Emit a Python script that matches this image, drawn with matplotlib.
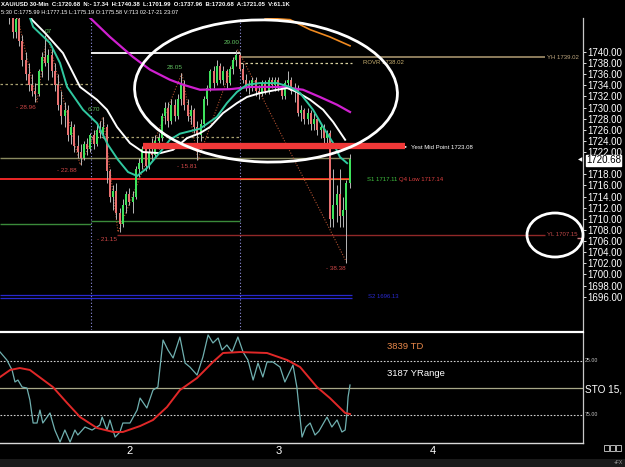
import matplotlib
matplotlib.use("Agg")
import matplotlib.pyplot as plt
from matplotlib.patches import Ellipse, Rectangle
import numpy as np

# ---------------- data ----------------
opens = [1758, 1753, 1749, 1746.5, 1743.5, 1746, 1742, 1738.5, 1736, 1734,
         1733, 1732.5, 1736.5, 1739, 1738, 1739.5, 1736.5, 1734, 1730.5, 1728.5,
         1729.5, 1725, 1726.5, 1723, 1722, 1721, 1723.5, 1722.5, 1725, 1723.5,
         1726, 1725.5, 1726.5, 1718.5, 1714, 1715, 1711, 1709, 1712.5, 1714.5,
         1713, 1714, 1719, 1720, 1722.5, 1719.5, 1722, 1721.5, 1724, 1724.5,
         1728.5, 1730, 1727.5, 1730.5, 1728.5, 1731.5, 1734, 1730.5, 1728.5, 1729.5,
         1726.5, 1725, 1727, 1731.5, 1733.5, 1736.5, 1734.5, 1737.5, 1735, 1736.5,
         1734.5, 1737, 1738.5, 1739.5, 1737, 1735, 1734, 1733.5, 1735, 1733,
         1732.5, 1734.5, 1733, 1735, 1734, 1735, 1733.5, 1732, 1734.5, 1735,
         1733, 1733.5, 1729, 1729.5, 1728, 1729, 1727, 1728, 1726, 1726.5,
         1724.5, 1725.5, 1710, 1712.5, 1714.5, 1710.5, 1711.5, 1716.5]
highs = [1760, 1755, 1751, 1748, 1747, 1747, 1743, 1740, 1738, 1736,
         1734.5, 1737, 1740, 1743, 1740.5, 1741, 1738, 1736, 1733, 1731,
         1730.5, 1727.5, 1727, 1725, 1723.5, 1724, 1724.5, 1725.5, 1726, 1727,
         1727.5, 1728.3, 1727, 1719, 1716, 1716.5, 1712, 1713.5, 1715, 1715.5,
         1715, 1719.5, 1721, 1723, 1723.5, 1723, 1724.5, 1725, 1725.5, 1729,
         1731, 1731, 1731.5, 1731.5, 1732.5, 1736.2, 1735, 1731.5, 1730.5, 1730,
         1727.5, 1728, 1732, 1734, 1737, 1737.5, 1738.5, 1738, 1737.5, 1737,
         1737.5, 1739, 1740.4, 1740, 1738, 1736, 1735, 1735.5, 1735.5, 1734,
         1735, 1735, 1735.5, 1735.5, 1735.5, 1735.5, 1734, 1735, 1736.5, 1735.5,
         1734.5, 1734, 1730.5, 1730, 1730, 1729.5, 1729, 1728.5, 1727, 1727,
         1726, 1726, 1719, 1716, 1719, 1714, 1717, 1721.6]
lows = [1752, 1748, 1745, 1742.5, 1742.5, 1741, 1737.5, 1735, 1733, 1732,
        1731, 1732, 1735.5, 1737.5, 1735, 1735.5, 1733, 1729.5, 1727, 1726.5,
        1724, 1723.5, 1722, 1721, 1719.7, 1720.5, 1721.5, 1722, 1722.5, 1723,
        1724.5, 1724.5, 1716.5, 1713, 1711.5, 1710, 1707.6, 1708.5, 1711, 1712.5,
        1711, 1713.5, 1717.5, 1719, 1718.5, 1719, 1720.5, 1721, 1722.5, 1724,
        1727, 1726.5, 1727, 1727.5, 1728, 1730.5, 1729.5, 1727.5, 1727, 1725.5,
        1720.6, 1724, 1726.5, 1730.5, 1733, 1733.5, 1734, 1734.5, 1734, 1733.5,
        1734, 1736, 1737.5, 1736.5, 1734.5, 1733, 1732.5, 1733, 1732, 1731.5,
        1732, 1732.5, 1732.5, 1733.5, 1733, 1733, 1731.5, 1731.5, 1733.5, 1732.5,
        1731, 1728.5, 1727.5, 1727, 1727, 1726, 1726, 1725, 1724.5, 1723.5,
        1723.5, 1708.5, 1708.5, 1709.5, 1708.5, 1708.5, 1702, 1715.5]
closes = [1753, 1749, 1746.5, 1743.5, 1746, 1742, 1738.5, 1736, 1734, 1733,
          1732.5, 1736.5, 1739, 1738, 1739.5, 1736.5, 1734, 1730.5, 1728.5, 1729.5,
          1725, 1726.5, 1723, 1722, 1721, 1723.5, 1722.5, 1725, 1723.5, 1726,
          1725.5, 1726.5, 1718.5, 1714, 1715, 1711, 1709, 1712.5, 1714.5, 1713,
          1714, 1719, 1720, 1722.5, 1719.5, 1722, 1721.5, 1724, 1724.5, 1728.5,
          1730, 1727.5, 1730.5, 1728.5, 1731.5, 1734, 1730.5, 1728.5, 1729.5, 1726.5,
          1725, 1727, 1731.5, 1733.5, 1736.5, 1734.5, 1737.5, 1735, 1736.5, 1734.5,
          1737, 1738.5, 1739.5, 1737, 1735, 1734, 1733.5, 1735, 1733, 1732.5,
          1734.5, 1733, 1735, 1734, 1735, 1733.5, 1732, 1734.5, 1735, 1733,
          1733.5, 1729, 1729.5, 1728, 1729, 1727, 1728, 1726, 1726.5, 1724.5,
          1725.5, 1710, 1712.5, 1714.5, 1710.5, 1711.5, 1716.5, 1720.68]

# moving averages (bar index, price)
white_ma_x = [7.4, 8.9, 13.0, 18.5, 23.8, 29.0, 32.1, 35.2, 39.2, 43.2, 48.5, 52.5, 56.8,
              60.8, 63.9, 67.9, 72.2, 75.3, 79.3, 84.6, 87.7, 90.7, 94.8, 98.8, 101.9, 105.6]
white_ma = [1747.5, 1745.8, 1743.4, 1739.8, 1733.7, 1731.4, 1729.6, 1726.5, 1723.6, 1722.0,
            1721.8, 1722.4, 1724.5, 1725.4, 1726.5, 1729.0, 1730.8, 1731.9, 1732.6, 1733.2,
            1733.5, 1732.8, 1731.4, 1729.6, 1727.4, 1724.2]
teal_ma_x = [7.8, 9.3, 14.5, 17.6, 19.8, 24.7, 29.0, 32.4, 35.5, 38.6, 41.4, 44.4, 48.5, 51.5,
             54.6, 60.8, 66.0, 69.1, 72.2, 75.3, 79.3, 84.6, 88.6, 91.7, 95.7, 98.8, 101.9,
             104.0, 106.2]
teal_ma = [1747.0, 1744.5, 1741.6, 1738.0, 1733.7, 1729.6, 1727.2, 1723.3, 1720.6, 1718.4,
           1717.7, 1719.1, 1722.0, 1724.2, 1725.3, 1726.2, 1728.3, 1730.8, 1732.8, 1734.1,
           1734.4, 1734.4, 1733.7, 1732.6, 1729.6, 1726.5, 1723.6, 1721.1, 1720.0]
mag_ma_x = [26.2, 33.0, 40.1, 45.4, 51.5, 55.6, 60.8, 70.1, 76.2, 86.4, 92.6, 97.8, 103.1, 107.1]
mag_ma = [1746.5, 1742.7, 1739.1, 1736.8, 1735.0, 1734.1, 1733.2, 1733.3, 1733.7, 1733.7,
          1733.2, 1731.9, 1730.5, 1729.2]
orange_ma_x = [80.9, 88.6, 94.8, 100.9, 107.1]
orange_ma = [1746.1, 1745.8, 1744.0, 1742.7, 1741.1]

# zigzag swing points
zz_x = [-0.9, 10.5, 13.6, 23.8, 30.9, 35.5, 55.2, 60.2, 72.5, 106.2]
zz_p = [1760.0, 1731.0, 1743.1, 1719.7, 1728.3, 1707.6, 1736.2, 1720.6, 1740.4, 1702.0]
zz_labels = ["- 28.96", "07", "- 22.88", "6.70", "- 21.15", "28.05", "- 15.81", "29.00", "- 38.38"]

# levels
yh_level = 1739.02
rovr_level = 1738.02
mid_level = 1723.08
s1_level = 1717.11
q4low_level = 1717.14
yl_level = 1707.15
day1_high_line = 1739.8
day0_dash = 1734.2
day1_dash = 1724.7
olive_level = 1720.9
green_level0 = 1709.1
green_level1 = 1709.6
blue_levels = [1696.3, 1695.8]
last_price = 1720.68

price_ticks = [1696 + 2 * k for k in range(23) if 1696 + 2 * k != 1720]
day_ticks = [39.2, 85.2, 132.7]
day_labels = ["2", "3", "4"]
day_separators = [27.2, 73.1]

# stochastic (bar index, value) - inverted scale
sto_k_x = [-0.9, 1.2, 2.8, 3.7, 4.6, 5.9, 7.4, 8.3, 9.3, 10.5, 11.4, 12.3, 14.5, 16.0, 17.6,
           19.1, 20.7, 22.2, 23.1, 25.3, 27.5, 29.9, 30.6, 32.1, 33.0, 34.6, 36.1, 37.0, 39.2,
           41.4, 42.3, 44.4, 46.3, 47.8, 49.4, 50.9, 52.5, 54.6, 56.2, 57.7, 59.9, 61.7, 63.3,
           64.8, 66.4, 67.6, 69.1, 70.7, 72.5, 74.1, 75.6, 77.2, 78.7, 80.2, 81.5, 83.3, 85.5,
           87.0, 89.5, 90.7, 92.3, 93.5, 94.8, 96.3, 97.5, 100.0, 101.5, 103.1, 104.6, 105.6,
           106.2, 106.5, 107.1]
sto_k = [16.7, 24.1, 33.3, 44.4, 42.6, 49.1, 50.0, 61.1, 82.4, 82.4, 70.4, 82.4, 73.1, 88.9,
         100.0, 88.9, 100.0, 88.9, 93.5, 86.1, 88.9, 84.3, 76.9, 88.9, 79.6, 95.4, 90.7, 82.4,
         82.4, 70.4, 59.3, 68.5, 51.9, 49.1, 5.6, 14.8, 22.2, 2.8, 26.9, 30.6, 38.0, 21.3, 0.9,
         8.3, 3.7, 14.8, 10.2, 16.7, 2.8, 16.7, 24.1, 42.6, 26.9, 39.8, 25.9, 25.9, 30.6, 44.4,
         28.7, 49.1, 95.4, 86.0, 82.4, 93.5, 90.0, 76.9, 86.1, 79.6, 90.7, 88.9, 72.2, 58.3, 47.2]
sto_d_x = [-0.9, 2.2, 5.2, 8.3, 15.4, 19.8, 23.8, 29.0, 34.0, 37.0, 42.3, 46.3, 50.6, 54.6,
           59.9, 64.8, 67.9, 73.1, 81.5, 87.7, 91.7, 96.9, 100.9, 105.6, 107.1]
sto_d = [39.8, 33.3, 31.5, 33.3, 49.1, 63.9, 76.9, 87.0, 90.7, 90.7, 85.2, 79.6, 67.6, 51.9,
         40.7, 25.9, 17.6, 16.7, 17.6, 24.1, 30.6, 49.1, 59.3, 73.1, 74.1]

header1 = "XAU/USD 30-Min  C:1720.68  N:- 17.34  H:1740.38  L:1701.99  O:1737.96  B:1720.68  A:1721.05  V:61.1K"
header2 = "5:30 C:1775.99 H:1777.15 L:1775.19 O:1775.58 V:713 02-17-21 23:07"

# ---------------- layout helpers ----------------
W, H = 625, 467
def bx(px):
    return (px - 3) / 3.24
def fx(px):
    return px / W
def fy(py):
    return 1 - py / H

FONT = "Liberation Sans"
BG = "black"

fig = plt.figure(figsize=(6.25, 4.67), dpi=100, facecolor=BG)
ax = fig.add_axes([0, fy(330), fx(583), (330 - 18) / H], facecolor=BG)
ax2 = fig.add_axes([0, fy(443), fx(583), (443 - 332) / H], facecolor=BG)

for a in (ax, ax2):
    a.set_xlim(bx(0), bx(583))
    for s in ("left", "top", "bottom"):
        a.spines[s].set_visible(False)
    a.spines["right"].set_color("#c8c8c8")
    a.spines["right"].set_linewidth(0.9)

ax.set_ylim(1690.0, 1746.1)
ax2.set_ylim(100.9, -1.85)

# ----- main panel -----
ax.yaxis.tick_right()
ax.set_yticks(price_ticks)
ax.set_yticklabels([f"{v:.2f}" for v in price_ticks], color="white", fontsize=7.0, family=FONT)
ax.tick_params(axis="y", colors="white", length=2, width=0.6, pad=1)
ax.set_xticks([])

# separators
for d in day_separators:
    ax.axvline(d, color="#9090e0", lw=0.8, ls=(0, (1, 2)))

# levels
ax.hlines(day0_dash, bx(0), day_separators[0], color="#a8a070", lw=0.9, ls=(0, (2, 2)))
ax.hlines(day1_dash, day_separators[0], day_separators[1], color="#a8a070", lw=0.9, ls=(0, (2, 2)))
ax.hlines(day1_high_line, day_separators[0], day_separators[1], color="white", lw=1.3)
ax.hlines(yh_level, day_separators[1], bx(545), color="#8c7c5c", lw=1.4)
ax.hlines(rovr_level, day_separators[1], bx(352), color="#d8d0a0", lw=0.9, ls=(0, (2, 2)))
ax.hlines(olive_level, bx(0), bx(350), color="#8a8a60", lw=1.0)
ax.hlines(q4low_level, bx(0), bx(350), color="#ff2a2a", lw=1.3)
ax.hlines(s1_level, day_separators[1], bx(350), color="#e07a30", lw=0.8)
ax.hlines(green_level0, bx(0), day_separators[0], color="#3a8a3a", lw=1.0)
ax.hlines(green_level1, day_separators[0], day_separators[1], color="#3a8a3a", lw=1.0)
ax.hlines(yl_level, bx(117), bx(545), color="#902828", lw=1.0)
ax.hlines(yl_level - 0.6, bx(577), bx(582), color="#d08080", lw=1.0)
for b in blue_levels:
    ax.hlines(b, bx(0), bx(352), color="#2828d0", lw=0.9)

# zigzag
ax.plot(zz_x, zz_p, color="#b05030", lw=0.8, ls=(0, (1, 1.5)))

# candles
idx = np.arange(len(closes))
o = np.array(opens); c = np.array(closes); h = np.array(highs); l = np.array(lows)
up = c >= o
ax.vlines(idx, l, h, color="#b8b8b8", lw=0.7, zorder=3)
body_bot = np.minimum(o, c)
body_h = np.maximum(np.abs(c - o), 0.25)
ax.bar(idx[up], body_h[up], bottom=body_bot[up], width=0.62, color="#3ee25c", zorder=4, linewidth=0)
ax.bar(idx[~up], body_h[~up], bottom=body_bot[~up], width=0.62, color="#e87070", zorder=4, linewidth=0)

# moving averages
ax.plot(mag_ma_x, mag_ma, color="#d020d0", lw=1.6, zorder=5)
ax.plot(orange_ma_x, orange_ma, color="#f08a20", lw=1.2, zorder=5)
ax.plot(white_ma_x, white_ma, color="white", lw=1.4, zorder=5)
ax.plot(teal_ma_x, teal_ma, color="#30c8a0", lw=1.4, zorder=5)

# yesterday midpoint thick line
ax.hlines(mid_level, bx(143), bx(405), color="#f03838", lw=4.5, zorder=6)

# zigzag labels
zz_offsets = [(-11, -6), (1, 3), (-13, -6), (-9, 7), (-11, -7), (-7, 6), (-11, -7), (-6, 7), (-11, -5)]
for k, (lab, off) in enumerate(zip(zz_labels, zz_offsets)):
    col = "#d04848" if lab.startswith("-") else "#60c060"
    ax.annotate(lab, xy=(zz_x[k + 1], zz_p[k + 1]), xytext=off, textcoords="offset pixels",
                ha="center", va="center", color=col, fontsize=4.6, family=FONT, zorder=7)

# level labels
small = dict(fontsize=4.3, family=FONT, va="center", ha="left", zorder=7)
ax.text(bx(547), yh_level, "YH 1739.02", color="#c0a880", **small)
ax.text(bx(363), rovr_level, "ROVR 1738.02", color="#c8b070", **small)
ax.text(bx(411), mid_level - 0.3, "Yest Mid Point 1723.08", color="white", **small)
ax.text(bx(404), mid_level - 0.3, "\u25b6", color="white", fontsize=3, family="DejaVu Sans", va="center", ha="left")
ax.text(bx(367), s1_level, "S1 1717.11", color="#40c040", **small)
ax.text(bx(399), s1_level, "Q4 Low 1717.14", color="#e04040", **small)
ax.text(bx(547), yl_level, "YL 1707.15", color="#c04848", **small)
ax.text(bx(368), 1696.0, "S2 1696.13", color="#2a2ad0", **small)

# current price box
ax.annotate(f"{last_price:.2f}", xy=(1.0, last_price - 0.15), xycoords=("axes fraction", "data"),
            xytext=(3, 0), textcoords="offset pixels", ha="left", va="center",
            fontsize=7.0, family=FONT, color="black", zorder=10, annotation_clip=False,
            bbox=dict(boxstyle="square,pad=0.05", fc="white", ec="white"))
ax.annotate("\u25c0", xy=(1.0, last_price), xycoords=("axes fraction", "data"),
            xytext=(-3, 0), textcoords="offset pixels", ha="center", va="center",
            fontsize=4, color="white", annotation_clip=False)

# ellipses (hand-drawn annotations)
fig.patches.append(Ellipse((fx(266), fy(91)), 263 / W, 142 / H, angle=-3,
                           transform=fig.transFigure, fill=False, ec="white", lw=2.0, zorder=20))
fig.patches.append(Ellipse((fx(555), fy(235)), 56 / W, 44 / H,
                           transform=fig.transFigure, fill=False, ec="white", lw=2.0, zorder=20))

# ----- lower panel -----
ax2.spines["top"].set_visible(True)
ax2.spines["top"].set_color("white")
ax2.spines["top"].set_linewidth(1.6)
ax2.spines["top"].set_linestyle((0, (1, 1)))
ax2.spines["bottom"].set_visible(True)
ax2.spines["bottom"].set_color("#d8d8d8")
ax2.spines["bottom"].set_linewidth(1.0)
ax2.axhline(25, color="#d0d0d0", lw=0.8, ls=(0, (1.5, 1.5)))
ax2.axhline(75, color="#d0d0d0", lw=0.8, ls=(0, (1.5, 1.5)))
ax2.axhline(50, color="#a8a888", lw=0.9)
ax2.plot(sto_k_x, sto_k, color="#70b0b0", lw=0.9)
ax2.plot(sto_d_x, sto_d, color="#e02828", lw=1.4)
ax2.set_yticks([])
ax2.set_xticks(day_ticks)
ax2.set_xticklabels(day_labels, color="white", fontsize=8, family=FONT)
ax2.tick_params(axis="x", length=0, pad=2, colors="white")

ax2.text(bx(387), 12, "3839 TD", color="#e8884a", fontsize=6.8, family=FONT, va="center", ha="left")
ax2.text(bx(387), 37, "3187 YRange", color="white", fontsize=6.8, family=FONT, va="center", ha="left")
fig.text(fx(585), fy(361), "25.00", color="#c8c8c8", fontsize=3.8, family=FONT, va="center")
fig.text(fx(585), fy(415), "75.00", color="#c8c8c8", fontsize=3.8, family=FONT, va="center")
fig.text(fx(585), fy(390), "STO 15,", color="white", fontsize=7.2, family=FONT, va="center")

# bottom-right small squares and tag
for k in range(3):
    fig.patches.append(Rectangle((fx(604 + 6 * k), fy(451)), 5 / W, 6 / H, transform=fig.transFigure,
                                 fill=False, ec="#d0d0d0", lw=0.6))
fig.text(fx(614), fy(462), "+FX", color="#a0a0a0", fontsize=3.6, family=FONT, va="center")
fig.patches.append(Rectangle((0, 0), 1, 8 / H, transform=fig.transFigure, fc="#1a1a1a", ec="none", zorder=-1))

# header
fig.text(fx(1), fy(5), header1, color="white", fontsize=4.3, family=FONT, weight="bold", va="center", ha="left")
fig.text(fx(1), fy(13), header2, color="white", fontsize=4.1, family=FONT, va="center", ha="left")

fig.savefig("out.png", dpi=100, facecolor=BG)
